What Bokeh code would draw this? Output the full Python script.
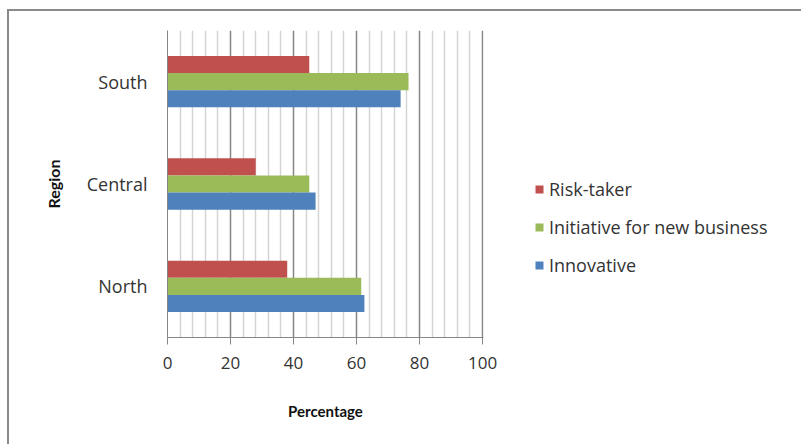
from bokeh.plotting import figure
from bokeh.models import FactorRange, Range1d, FixedTicker, Legend, LegendItem, ColumnDataSource
from bokeh.transform import dodge
from bokeh.embed import file_html
from bokeh.resources import INLINE

regions = ["North", "Central", "South"]
risk_taker = [38, 28, 45]
initiative = [61.5, 45, 76.5]
innovative = [62.5, 47, 74]
series_names = ["Risk-taker", "Initiative for new business", "Innovative"]
series_colors = ["#C0504D", "#9BBB59", "#4F81BD"]
x_ticks = [0, 20, 40, 60, 80, 100]
x_minor = [4, 8, 12, 16, 24, 28, 32, 36, 44, 48, 52, 56, 64, 68, 72, 76, 84, 88, 92, 96]

src = ColumnDataSource(dict(region=regions, risk=risk_taker, init=initiative, innov=innovative))

p = figure(y_range=FactorRange(*regions), x_range=Range1d(0, 100.3),
           frame_width=316, frame_height=307,
           min_border_left=158, min_border_right=318, min_border_top=19, min_border_bottom=107,
           output_backend="svg", toolbar_location=None)
p.margin = (9, 0, 0, 7)
p.styles = {"border-top": "2px solid #8a8a8a", "border-left": "2px solid #8a8a8a"}
p.outline_line_color = None
p.background_fill_color = "white"

bw = 0.167
r1 = p.hbar(y=dodge("region", bw, range=p.y_range), right="risk", left=0, height=bw, source=src,
            fill_color=series_colors[0], line_color=None)
r2 = p.hbar(y=dodge("region", 0, range=p.y_range), right="init", left=0, height=bw, source=src,
            fill_color=series_colors[1], line_color=None)
r3 = p.hbar(y=dodge("region", -bw, range=p.y_range), right="innov", left=0, height=bw, source=src,
            fill_color=series_colors[2], line_color=None)

font = "Open Sans"
p.xaxis.ticker = FixedTicker(ticks=x_ticks, minor_ticks=x_minor)
p.xaxis.axis_label = "Percentage"
p.xaxis.axis_label_text_font = "Lato"
p.xaxis.axis_label_text_font_style = "bold"
p.xaxis.axis_label_text_font_size = "15px"
p.xaxis.axis_label_text_color = "#111111"
p.xaxis.axis_label_standoff = 30
p.xaxis.major_label_text_font = font
p.xaxis.major_label_text_font_size = "17px"
p.xaxis.major_label_text_color = "#333333"
p.xaxis.major_label_standoff = 12
p.xaxis.axis_line_color = "#868686"
p.xaxis.major_tick_line_color = "#868686"
p.xaxis.major_tick_out = 7
p.xaxis.major_tick_in = 0
p.xaxis.minor_tick_out = 0
p.xaxis.minor_tick_in = 0

p.yaxis.axis_label = "Region"
p.yaxis.axis_label_text_font = "Lato"
p.yaxis.axis_label_text_font_style = "bold"
p.yaxis.axis_label_text_font_size = "16px"
p.yaxis.axis_label_text_color = "#111111"
p.yaxis.axis_label_standoff = 21
p.yaxis.major_label_text_font = font
p.yaxis.major_label_text_font_size = "18px"
p.yaxis.major_label_text_color = "#333333"
p.yaxis.major_label_standoff = 20
p.yaxis.axis_line_color = "#868686"
p.yaxis.major_tick_out = 0
p.yaxis.major_tick_in = 0

p.ygrid.grid_line_color = None
p.xgrid.grid_line_color = "#868686"
p.xgrid.grid_line_width = 1.5
p.xgrid.minor_grid_line_color = "#d4d4d4"
p.xgrid.minor_grid_line_width = 1.5
p.xgrid.level = "underlay"

legend = Legend(items=[LegendItem(label=series_names[0], renderers=[r1]),
                       LegendItem(label=series_names[1], renderers=[r2]),
                       LegendItem(label=series_names[2], renderers=[r3])],
                location=(51, 60))
legend.glyph_width = 10
legend.glyph_height = 10
legend.label_height = 10
legend.spacing = 14
legend.padding = 5
legend.margin = 0
legend.label_standoff = 5
legend.label_text_font = font
legend.label_text_font_size = "18px"
legend.label_text_color = "#333333"
legend.border_line_color = None
legend.background_fill_alpha = 0
p.add_layout(legend, "right")

open("out.html", "w").write(file_html(p, INLINE))
